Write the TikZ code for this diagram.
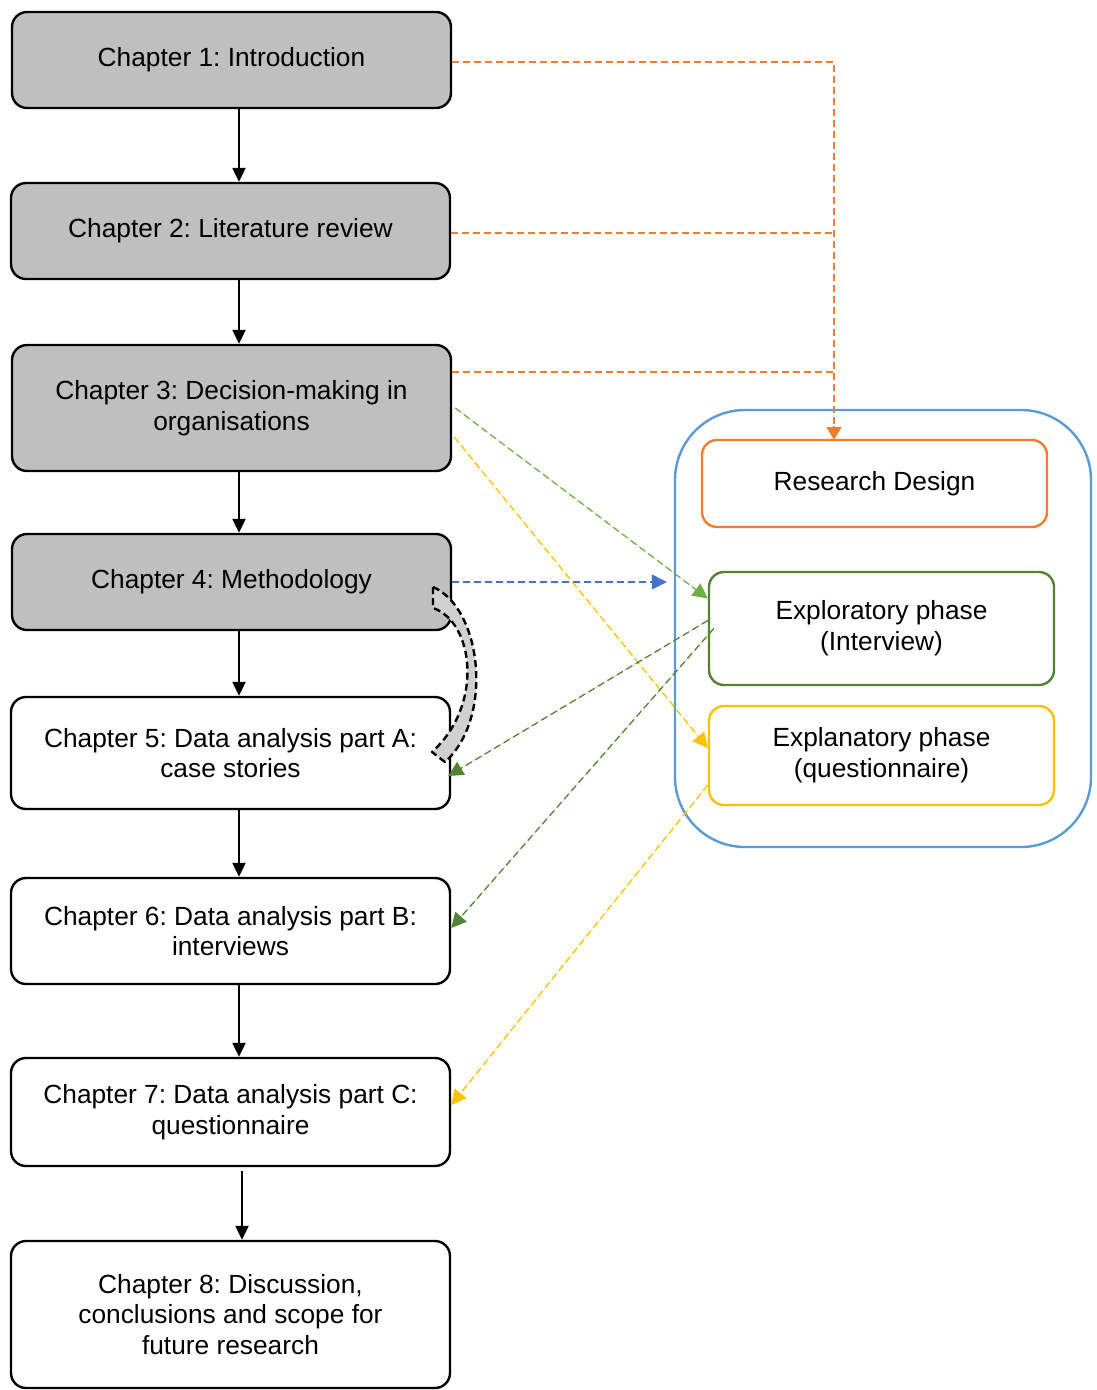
\documentclass[tikz,border=0pt]{standalone}
\usepackage{fontspec}
\setmainfont{Liberation Sans}
\frenchspacing
\usetikzlibrary{arrows.meta,calc}
\definecolor{chgray}{HTML}{BFBFBF}
\definecolor{rdorange}{HTML}{ED7D31}
\definecolor{exgreen}{HTML}{548235}
\definecolor{ltgreen}{HTML}{70AD47}
\definecolor{exyellow}{HTML}{FFC000}
\definecolor{arrblue}{HTML}{4472C4}
\definecolor{contblue}{HTML}{5B9BD5}
\definecolor{bandgray}{HTML}{D0D0D0}
\begin{document}
\begin{tikzpicture}[x=1pt,y=-1pt,
  chbox/.style={draw=black,line width=2.4pt,rounded corners=15pt,align=center,
    font=\fontsize{26.3}{30.8}\selectfont,inner sep=0pt},
  shaded/.style={chbox,fill=chgray},
  plain/.style={chbox,fill=white},
  phase/.style={line width=2.4pt,rounded corners=15pt,align=center,
    font=\fontsize{26.3}{30.8}\selectfont,inner sep=0pt,fill=white},
  flow/.style={line width=2.2pt,-{Triangle[length=14pt,width=13pt]}},
  dashlink/.style={line width=1.3pt,dash pattern=on 7pt off 4pt,
    -{Triangle[length=15pt,width=15pt]}},
  plainlink/.style={line width=1.3pt,dash pattern=on 7pt off 4pt}]
\useasboundingbox (0,0) rectangle (1096,1390);

% chapter column
\node[shaded,minimum width=439pt,minimum height=96pt] (ch1) at (231.5,60) {Chapter 1: Introduction};
\node[shaded,minimum width=439pt,minimum height=96pt] (ch2) at (230.5,231) {Chapter 2: Literature review};
\node[shaded,minimum width=439pt,minimum height=126pt] (ch3) at (231.5,408) {Chapter 3: Decision-making in\\organisations};
\node[shaded,minimum width=439pt,minimum height=96pt] (ch4) at (231.5,582) {Chapter 4: Methodology};
\node[plain,minimum width=439pt,minimum height=112pt] (ch5) at (230.5,753) {Chapter 5: Data analysis part A:\\case stories};
\node[plain,minimum width=439pt,minimum height=106pt] (ch6) at (230.5,931) {Chapter 6: Data analysis part B:\\interviews};
\node[plain,minimum width=439pt,minimum height=108pt] (ch7) at (230.5,1112) {Chapter 7: Data analysis part C:\\questionnaire};
\node[plain,minimum width=439pt,minimum height=147pt] (ch8) at (230.5,1314.5) {Chapter 8: Discussion,\\conclusions and scope for\\future research};

% research design panel
\node[draw=contblue,line width=2.4pt,rounded corners=70pt,minimum width=416pt,minimum height=437pt,inner sep=0pt] (cont) at (883,628.5) {};
\node[phase,draw=rdorange,minimum width=345pt,minimum height=87pt] (rd) at (874.5,483.5) {Research Design};
\node[phase,draw=exgreen,minimum width=345pt,minimum height=113pt] (ex) at (881.5,628.5) {Exploratory phase\\(Interview)};
\node[phase,draw=exyellow,minimum width=345pt,minimum height=99pt] (expl) at (881.5,755.5) {Explanatory phase\\(questionnaire)};

% main reading order
\draw[flow] (ch1.south -| 239,0) -- (ch2.north -| 239,0);
\draw[flow] (ch2.south -| 239,0) -- (ch3.north -| 239,0);
\draw[flow] (ch3.south -| 239,0) -- (ch4.north -| 239,0);
\draw[flow] (ch4.south -| 239,0) -- (ch5.north -| 239,0);
\draw[flow] (ch5.south -| 239,0) -- (ch6.north -| 239,0);
\draw[flow] (ch6.south -| 239,0) -- (ch7.north -| 239,0);
\draw[flow] ([yshift=-4pt]ch7.south -| 242,0) -- (ch8.north -| 242,0);

% chapters feeding the research design
\coordinate (rdin) at (834,440);
\draw[plainlink,draw=rdorange] ([yshift=-2pt]ch1.east) -| (rdin);
\draw[plainlink,draw=rdorange] ([yshift=-2pt]ch2.east) -- ([yshift=-2pt]ch2.east -| rdin);
\draw[plainlink,draw=rdorange] ([yshift=36pt]ch3.east) -- ([yshift=36pt]ch3.east -| rdin);
\draw[line width=1.3pt,draw=rdorange,fill=rdorange,-{Triangle[length=13pt,width=15pt]}] ([yshift=14pt]rdin) -- (rdin);

% methodology and literature links to the phases
\draw[dashlink,draw=arrblue,fill=arrblue] (ch4.east) -- ([xshift=-7pt]ch4.east -| cont.west);
\draw[dashlink,draw=ltgreen,fill=ltgreen] ([xshift=3pt]ch3.east) -- ([yshift=30pt]ex.west);
\draw[dashlink,draw=exyellow,fill=exyellow] ([xshift=2pt,yshift=-29pt]ch3.east) -- ([yshift=7.5pt]expl.west);

% phases feeding the analysis chapters
\draw[dashlink,draw=exgreen,fill=exgreen] ([yshift=8pt]ex.west) -- ([xshift=-3pt,yshift=-23pt]ch5.east);
\draw[dashlink,draw=exgreen,fill=exgreen] ([xshift=6pt]ex.west) -- ([yshift=3pt]ch6.east);
\draw[dashlink,draw=exyellow,fill=exyellow] ([yshift=-29.5pt]expl.west) -- ([yshift=7pt]ch7.east);

% curved band from methodology to data analysis part A
\draw[fill=bandgray,line width=2.4pt,dash pattern=on 7pt off 4pt,line join=round]
  (433,587) .. controls (482,608) and (494,718) .. (445,762)
  -- (432,752) .. controls (484,705) and (474,622) .. (433,608) -- cycle;
\end{tikzpicture}
\end{document}
